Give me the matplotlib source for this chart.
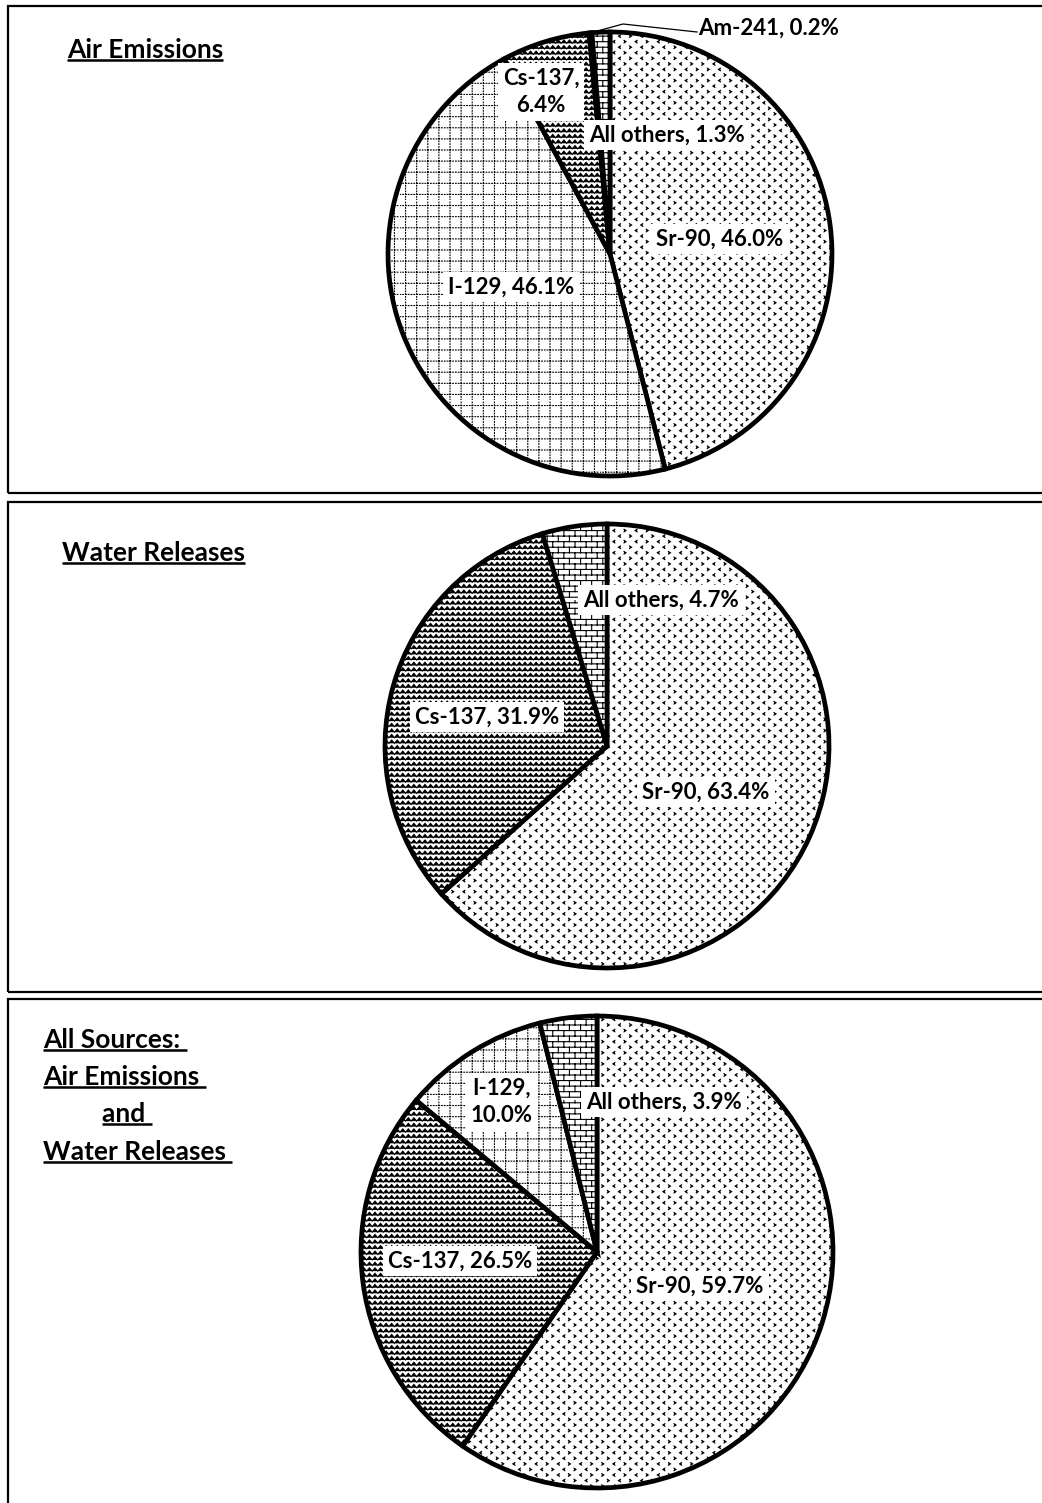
import warnings
import numpy as np
import matplotlib
matplotlib.use('Agg')
import matplotlib.pyplot as plt
import matplotlib.hatch as mhatch
from matplotlib.path import Path
from matplotlib.patches import Rectangle

warnings.filterwarnings('ignore')

# ---- data ----
air_names = ['Sr-90', 'I-129', 'Cs-137', 'Am-241', 'All others']
air_values = [46.0, 46.1, 6.4, 0.2, 1.3]

water_names = ['Sr-90', 'Cs-137', 'All others']
water_values = [63.4, 31.9, 4.7]

all_names = ['Sr-90', 'Cs-137', 'I-129', 'All others']
all_values = [59.7, 26.5, 10.0, 3.9]

titles = [['Air Emissions'],
          ['Water Releases'],
          ['All Sources: ', 'Air Emissions ', 'and ', 'Water Releases ']]


# ---- custom hatches (scanned-print look) ----
class BrickHatch(mhatch.HatchPatternBase):
    def __init__(self, hatch, density):
        n = hatch.count('b') * density
        self.num_rows = n + n % 2
        self.num_vertices = self.num_rows * (self.num_rows + 2)

    def set_vertices_and_codes(self, vertices, codes):
        n = self.num_rows
        h = 1.0 / n
        i = 0
        for k in range(n):
            y = (k + 0.5) * h
            vertices[i] = (0, y)
            vertices[i + 1] = (1, y)
            codes[i], codes[i + 1] = Path.MOVETO, Path.LINETO
            i += 2
            for j in range(n // 2):
                x = (2 * j + (k % 2) + 0.5) * h
                vertices[i] = (x, y)
                vertices[i + 1] = (x, y + h)
                codes[i], codes[i + 1] = Path.MOVETO, Path.LINETO
                i += 2


class ZigzagHatch(mhatch.HatchPatternBase):
    def __init__(self, hatch, density):
        self.num_rows = hatch.count('z') * density
        self.num_vertices = self.num_rows * (2 * self.num_rows + 1)

    def set_vertices_and_codes(self, vertices, codes):
        n = self.num_rows
        h = 1.0 / n
        i = 0
        for k in range(n):
            y0 = (k + 0.2) * h
            for t in range(2 * n + 1):
                vertices[i] = (t * h / 2, y0 + (t % 2) * h * 0.6)
                codes[i] = Path.LINETO if t else Path.MOVETO
                i += 1


class DotGridHatch(mhatch.HatchPatternBase):
    def __init__(self, hatch, density):
        self.num_lines = hatch.count('g') * density * 3 // 2
        self.num_dots = self.num_lines * 4
        self.num_vertices = 4 * self.num_lines * self.num_dots

    def set_vertices_and_codes(self, vertices, codes):
        n, m = self.num_lines, self.num_dots
        d = 1.0 / m
        i = 0
        for k in range(n):
            c = (k + 0.5) / n
            for j in range(m):
                p = j * d
                vertices[i] = (p, c)
                vertices[i + 1] = (p + d * 0.25, c)
                vertices[i + 2] = (c, p)
                vertices[i + 3] = (c, p + d * 0.25)
                codes[i:i + 4] = [Path.MOVETO, Path.LINETO, Path.MOVETO, Path.LINETO]
                i += 4


class ChevronHatch(mhatch.HatchPatternBase):
    def __init__(self, hatch, density):
        self.num_rows = hatch.count('c') * density
        self.num_cols = self.num_rows // 2
        self.num_vertices = self.num_rows * self.num_cols * 3

    def set_vertices_and_codes(self, vertices, codes):
        rows, cols = self.num_rows, self.num_cols
        dy, dx = 1.0 / rows, 1.0 / max(cols, 1)
        w, h = 0.010, 0.013
        i = 0
        for k in range(rows):
            for j in range(cols):
                x = (j + 0.25 + 0.5 * (k % 2)) * dx
                y = (k + 0.5) * dy
                s = 1 if j % 2 else -1
                vertices[i] = (x + s * w, y + h)
                vertices[i + 1] = (x - s * w, y)
                vertices[i + 2] = (x + s * w, y - h)
                codes[i:i + 3] = [Path.MOVETO, Path.LINETO, Path.LINETO]
                i += 3


mhatch._hatch_types.extend([BrickHatch, ZigzagHatch, DotGridHatch, ChevronHatch])

hatch_of = {'Sr-90': 'ccc', 'I-129': 'g', 'Cs-137': 'zzz',
            'All others': 'bbb', 'Am-241': 'bbb'}

plt.rcParams['font.family'] = ['Lato', 'DejaVu Sans']
plt.rcParams['hatch.linewidth'] = 0.8

W, H = 1042, 1503
fig = plt.figure(figsize=(W / 100, H / 100), dpi=100)
ax = fig.add_axes([0, 0, 1, 1])


def Y(y):
    # pixel row (from top) -> data y
    return H - y


# panel geometry in pixels: (top, bottom), pie centre, radius
panels = [
    dict(box=(6, 493), center=(610, 254), radius=222,
         names=air_names, values=air_values, wrap={'Cs-137'},
         label_off={'Sr-90': (110, -15), 'I-129': (-99, 33), 'Cs-137': (-69, -162),
                    'Am-241': (159, -226), 'All others': (57, -119)},
         title_xy=[(67, 50)]),
    dict(box=(502, 992), center=(607, 746), radius=222,
         names=water_names, values=water_values, wrap=set(),
         label_off={'Sr-90': (99, 46), 'Cs-137': (-120, -29), 'All others': (54, -146)},
         title_xy=[(62, 553)]),
    dict(box=(999, 1520), center=(597, 1252), radius=236,
         names=all_names, values=all_values, wrap={'I-129'},
         label_off={'Sr-90': (103, 34), 'Cs-137': (-137, 9), 'I-129': (-95, -150),
                    'All others': (67, -150)},
         title_xy=[(43, 1040), (43, 1077), (102, 1114), (43, 1152)]),
]

title_texts = []
for p, tl in zip(panels, titles):
    top, bot = p['box']
    ax.add_patch(Rectangle((8, Y(bot)), 1100, bot - top, fill=False,
                           edgecolor='black', linewidth=1.6, zorder=5))
    cx, cy = p['center']
    r = p['radius']
    ax.pie(p['values'], startangle=90, counterclock=False, center=(cx, Y(cy)),
           radius=r, colors=['white'] * len(p['values']),
           hatch=[hatch_of[n] for n in p['names']],
           wedgeprops=dict(edgecolor='black', linewidth=3.4))

    for n, v in zip(p['names'], p['values']):
        sep = ',\n' if n in p['wrap'] else ', '
        dx, dy = p['label_off'][n]
        ax.text(cx + dx, Y(cy + dy), f'{n}{sep}{v:.1f}%', ha='center', va='center',
                fontsize=16, fontweight='bold', linespacing=1.35, zorder=4,
                bbox=dict(facecolor='white', edgecolor='none', pad=3.5))

    for line, (tx, ty) in zip(tl, p['title_xy']):
        t = ax.text(tx, Y(ty), line, ha='left', va='center',
                    fontsize=19, fontweight='bold', zorder=4)
        title_texts.append(t)

# leader line for the tiny Am-241 slice
p = panels[0]
cx, cy = p['center']
r = p['radius']
frac = (sum(air_values[:3]) + air_values[3] / 2) / sum(air_values)
ang = np.pi / 2 - 2 * np.pi * frac
x0, y0 = cx + r * np.cos(ang), Y(cy) + r * np.sin(ang)
ax.plot([x0, 623, 697], [y0, Y(24), Y(32)], color='black', linewidth=0.9, zorder=4)

ax.set_xlim(0, W)
ax.set_ylim(0, H)
ax.set_aspect('auto')
ax.set_position([0, 0, 1, 1])
ax.axis('off')

# underline the titles
fig.canvas.draw()
inv = ax.transData.inverted()
for t in title_texts:
    bb = t.get_window_extent()
    (x1, y1), (x2, y2) = inv.transform([[bb.x0, bb.y0], [bb.x1, bb.y1]])
    ax.plot([x1, x2], [y1 + 2, y1 + 2], color='black', linewidth=1.8, zorder=4,
            solid_capstyle='butt')

fig.savefig('out.png', dpi=100)
